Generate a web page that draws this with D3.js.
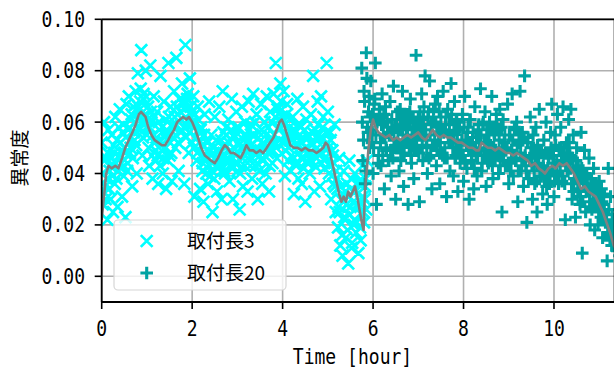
<!DOCTYPE html>
<html>
<head>
<meta charset="utf-8">
<script src="https://cdn.jsdelivr.net/npm/d3@7"></script>
<style>
  body { margin: 0; background: #fff; }
  svg { display: block; }
</style>
</head>
<body>
<svg id="chart" width="614" height="372"></svg>
<script>
// Anomaly scores logged every 0.75 minutes (0.0125 h)
const sampleStepHours = 0.0125;

// Mounting length 3 run
const startA = 0;
const scoreA = [
  0.052,0.040, 0.028,0.033, 0.060,0.045, 0.035,0.030, 0.046,0.038, 0.022,0.048, 0.057,0.034, 0.041,0.043,
  0.030,0.046, 0.055,0.039, 0.025,0.051, 0.048,0.036, 0.062,0.044, 0.038,0.053, 0.027,0.041, 0.058,0.047,
  0.065,0.052, 0.042,0.044, 0.031,0.056, 0.059,0.039, 0.050,0.048, 0.023,0.054, 0.067,0.041, 0.044,0.057,
  0.070,0.058, 0.048,0.050, 0.061,0.063, 0.035,0.046, 0.066,0.056, 0.053,0.060, 0.072,0.051, 0.040,0.064,
  0.079,0.066, 0.058,0.057, 0.068,0.073, 0.088,0.060, 0.047,0.054, 0.071,0.069, 0.062,0.063, 0.080,0.058,
  0.055,0.061, 0.066,0.050, 0.043,0.058, 0.082,0.064, 0.060,0.047, 0.038,0.055, 0.070,0.062, 0.052,0.049,
  0.045,0.054, 0.064,0.047, 0.036,0.060, 0.057,0.043, 0.078,0.051, 0.049,0.058, 0.040,0.046, 0.068,0.055,
  0.061,0.050, 0.034,0.057, 0.055,0.045, 0.083,0.062, 0.047,0.052, 0.066,0.048, 0.037,0.059, 0.058,0.054,
  0.072,0.062, 0.050,0.055, 0.085,0.066, 0.063,0.052, 0.041,0.060, 0.069,0.064, 0.056,0.057, 0.075,0.068,
  0.067,0.058, 0.036,0.065, 0.090,0.054, 0.059,0.069, 0.071,0.061, 0.048,0.056, 0.077,0.066, 0.064,0.060,
  0.052,0.059, 0.070,0.050, 0.031,0.063, 0.060,0.054, 0.045,0.048, 0.066,0.061, 0.057,0.052, 0.034,0.057,
  0.058,0.051, 0.041,0.044, 0.029,0.055, 0.063,0.046, 0.047,0.040, 0.053,0.052, 0.036,0.049, 0.068,0.043,
  0.039,0.047, 0.055,0.041, 0.025,0.050, 0.048,0.038, 0.062,0.046, 0.043,0.053, 0.033,0.042, 0.052,0.049,
  0.066,0.044, 0.045,0.053, 0.030,0.047, 0.072,0.056, 0.051,0.041, 0.040,0.050, 0.058,0.055, 0.046,0.045,
  0.061,0.052, 0.037,0.045, 0.049,0.057, 0.069,0.042, 0.030,0.050, 0.055,0.054, 0.044,0.047, 0.064,0.058,
  0.041,0.044, 0.058,0.051, 0.026,0.040, 0.050,0.054, 0.066,0.046, 0.035,0.050, 0.047,0.043, 0.060,0.055,
  0.054,0.052, 0.033,0.046, 0.068,0.057, 0.045,0.043, 0.059,0.051, 0.038,0.055, 0.071,0.048, 0.049,0.060,
  0.043,0.050, 0.063,0.044, 0.030,0.054, 0.056,0.041, 0.047,0.049, 0.067,0.057, 0.036,0.045, 0.052,0.051,
  0.060,0.047, 0.040,0.055, 0.070,0.050, 0.048,0.058, 0.033,0.043, 0.064,0.052, 0.054,0.060, 0.044,0.049,
  0.071,0.055, 0.052,0.062, 0.083,0.050, 0.046,0.065, 0.066,0.057, 0.058,0.053, 0.075,0.068, 0.062,0.060,
  0.060,0.052, 0.072,0.059, 0.039,0.049, 0.055,0.063, 0.067,0.055, 0.045,0.050, 0.058,0.061, 0.041,0.054,
  0.047,0.053, 0.062,0.046, 0.032,0.057, 0.056,0.044, 0.043,0.051, 0.069,0.059, 0.038,0.048, 0.053,0.055,
  0.058,0.046, 0.036,0.052, 0.066,0.042, 0.049,0.057, 0.029,0.050, 0.061,0.045, 0.044,0.055, 0.054,0.048,
  0.040,0.052, 0.063,0.045, 0.051,0.056, 0.078,0.047, 0.033,0.043, 0.057,0.054, 0.046,0.050, 0.068,0.059,
  0.055,0.047, 0.035,0.054, 0.070,0.044, 0.048,0.058, 0.062,0.050, 0.042,0.046, 0.051,0.056, 0.083,0.052,
  0.064,0.050, 0.040,0.043, 0.056,0.053, 0.030,0.039, 0.049,0.047, 0.036,0.044, 0.059,0.035, 0.025,0.041,
  0.038,0.034, 0.019,0.027, 0.046,0.025, 0.012,0.035, 0.030,0.016, 0.008,0.029, 0.041,0.023, 0.022,0.033,
  0.015,0.028, 0.036,0.018, 0.005,0.031, 0.045,0.024, 0.027,0.038, 0.011,0.013, 0.033,0.029, 0.020,0.022,
  0.040,0.033, 0.017,0.021, 0.028,0.027, 0.009,0.037, 0.036,0.019, 0.014,0.029, 0.024,0.043, 0.031,0.025,
  0.021,0.030, 0.035,0.038, 0.026,0.045
];

// Mounting length 20 run
const startB = 5.75;
const scoreB = [
  0.081,0.060, 0.045,0.053, 0.072,0.068, 0.036,0.041, 0.087,0.077, 0.058,0.056, 0.064,0.070, 0.050,0.062,
  0.076,0.057, 0.052,0.063, 0.040,0.050, 0.067,0.069, 0.083,0.055, 0.028,0.060, 0.061,0.044, 0.047,0.065,
  0.062,0.052, 0.043,0.059, 0.071,0.047, 0.055,0.063, 0.034,0.054, 0.066,0.050, 0.049,0.060, 0.058,0.045,
  0.045,0.056, 0.068,0.049, 0.039,0.061, 0.057,0.046, 0.074,0.053, 0.050,0.058, 0.030,0.051, 0.061,0.064,
  0.056,0.050, 0.041,0.057, 0.065,0.045, 0.048,0.062, 0.072,0.053, 0.035,0.048, 0.059,0.060, 0.052,0.055,
  0.063,0.058, 0.028,0.052, 0.051,0.064, 0.069,0.047, 0.044,0.055, 0.060,0.061, 0.038,0.050, 0.057,0.054,
  0.086,0.053, 0.049,0.059, 0.062,0.048, 0.029,0.064, 0.058,0.056, 0.071,0.051, 0.045,0.061, 0.066,0.055,
  0.078,0.057, 0.053,0.050, 0.040,0.062, 0.064,0.046, 0.076,0.055, 0.047,0.059, 0.034,0.051, 0.060,0.065,
  0.051,0.053, 0.067,0.060, 0.043,0.049, 0.070,0.058, 0.056,0.064, 0.036,0.052, 0.062,0.057, 0.048,0.047,
  0.072,0.056, 0.046,0.050, 0.059,0.062, 0.031,0.046, 0.065,0.055, 0.052,0.059, 0.041,0.052, 0.075,0.063,
  0.055,0.050, 0.039,0.056, 0.068,0.046, 0.047,0.061, 0.060,0.053, 0.033,0.048, 0.057,0.058, 0.044,0.051,
  0.049,0.053, 0.063,0.047, 0.037,0.058, 0.070,0.044, 0.053,0.052, 0.042,0.056, 0.058,0.049, 0.030,0.061,
  0.061,0.051, 0.045,0.045, 0.054,0.056, 0.034,0.042, 0.066,0.050, 0.048,0.054, 0.039,0.047, 0.057,0.059,
  0.052,0.049, 0.073,0.055, 0.041,0.044, 0.059,0.060, 0.047,0.052, 0.064,0.047, 0.035,0.057, 0.055,0.050,
  0.044,0.052, 0.060,0.046, 0.051,0.057, 0.070,0.043, 0.038,0.050, 0.056,0.055, 0.046,0.048, 0.063,0.059,
  0.057,0.047, 0.040,0.053, 0.065,0.043, 0.048,0.058, 0.025,0.050, 0.061,0.045, 0.052,0.055, 0.043,0.049,
  0.050,0.050, 0.067,0.044, 0.036,0.055, 0.055,0.041, 0.044,0.049, 0.071,0.053, 0.039,0.046, 0.058,0.057,
  0.045,0.045, 0.060,0.051, 0.029,0.041, 0.052,0.055, 0.072,0.048, 0.041,0.043, 0.056,0.053, 0.035,0.046,
  0.078,0.047, 0.043,0.041, 0.021,0.052, 0.054,0.038, 0.038,0.046, 0.062,0.050, 0.047,0.043, 0.030,0.055,
  0.050,0.041, 0.036,0.047, 0.058,0.037, 0.025,0.051, 0.044,0.044, 0.065,0.039, 0.039,0.049, 0.048,0.042,
  0.032,0.043, 0.053,0.038, 0.041,0.048, 0.060,0.035, 0.028,0.042, 0.047,0.046, 0.036,0.039, 0.056,0.050,
  0.067,0.041, 0.044,0.047, 0.031,0.037, 0.055,0.051, 0.040,0.044, 0.063,0.039, 0.036,0.049, 0.050,0.043,
  0.058,0.045, 0.037,0.039, 0.066,0.050, 0.045,0.036, 0.022,0.044, 0.052,0.048, 0.041,0.041, 0.061,0.052,
  0.047,0.042, 0.065,0.036, 0.030,0.046, 0.055,0.033, 0.038,0.041, 0.023,0.045, 0.050,0.038, 0.034,0.043,
  0.041,0.037, 0.028,0.031, 0.056,0.042, 0.009,0.029, 0.036,0.036, 0.049,0.040, 0.025,0.033, 0.039,0.038,
  0.033,0.034, 0.046,0.029, 0.020,0.038, 0.038,0.026, 0.027,0.032, 0.042,0.036, 0.018,0.030, 0.035,0.028,
  0.030,0.030, 0.020,0.025, 0.037,0.033, 0.025,0.023, 0.034,0.029, 0.015,0.032, 0.028,0.026, 0.022,0.021,
  0.024,0.022, 0.006,0.017, 0.042,0.026, 0.016,0.014, 0.031,0.020, 0.012,0.024, 0.021,0.015, 0.018,0.019,
  0.014,0.016, 0.026,0.012, 0.010,0.018, 0.020,0.011, 0.008,0.015
];

// Moving average of the combined score
const trendTime = [
  0.00, 0.05, 0.10, 0.15, 0.22, 0.30, 0.37, 0.45, 0.52, 0.60, 0.68, 0.75, 0.82, 0.87, 0.92, 0.97,
  1.03, 1.10, 1.17, 1.25, 1.33, 1.40, 1.47, 1.53, 1.60, 1.67, 1.73, 1.80, 1.87, 1.93,
  2.00, 2.07, 2.13, 2.20, 2.28, 2.35, 2.42, 2.50, 2.57, 2.65, 2.72, 2.78, 2.85, 2.92,
  3.00, 3.07, 3.13, 3.20, 3.27, 3.35, 3.42, 3.50, 3.57, 3.65, 3.72, 3.80, 3.87, 3.93, 3.98,
  4.03, 4.10, 4.17, 4.25, 4.33, 4.42, 4.50, 4.58, 4.67, 4.75, 4.83, 4.90, 4.95,
  5.00, 5.05, 5.10, 5.15, 5.20, 5.25, 5.30, 5.35, 5.40, 5.45, 5.50, 5.55, 5.60, 5.65, 5.70, 5.75,
  5.79, 5.82, 5.86, 5.90, 5.95, 6.00, 6.05, 6.12, 6.20, 6.28, 6.36, 6.44, 6.52, 6.60, 6.68,
  6.76, 6.84, 6.92, 7.00, 7.08, 7.16, 7.24, 7.32, 7.40, 7.48, 7.56, 7.64, 7.72, 7.80, 7.88, 7.96,
  8.04, 8.12, 8.20, 8.28, 8.34, 8.40, 8.46, 8.54, 8.62, 8.70, 8.78, 8.86, 8.94,
  9.02, 9.10, 9.18, 9.26, 9.34, 9.42, 9.50, 9.58, 9.66, 9.74, 9.80, 9.88, 9.96,
  10.04, 10.12, 10.20, 10.28, 10.36, 10.44, 10.52, 10.60, 10.68, 10.76, 10.84, 10.92,
  11.00, 11.08, 11.16, 11.24, 11.32, 11.40
];
const trendScore = [
  0.022, 0.031, 0.040, 0.043, 0.042, 0.043, 0.042, 0.046, 0.050, 0.053, 0.056, 0.059, 0.063, 0.064, 0.063, 0.062,
  0.058, 0.055, 0.053, 0.052, 0.051, 0.051, 0.053, 0.055, 0.057, 0.060, 0.061, 0.062, 0.061, 0.062,
  0.060, 0.057, 0.054, 0.050, 0.047, 0.046, 0.045, 0.044, 0.046, 0.049, 0.051, 0.050, 0.048, 0.048,
  0.047, 0.046, 0.048, 0.051, 0.049, 0.049, 0.048, 0.049, 0.048, 0.050, 0.052, 0.054, 0.057, 0.060, 0.061,
  0.059, 0.055, 0.051, 0.050, 0.050, 0.049, 0.050, 0.049, 0.049, 0.048, 0.049, 0.050, 0.052,
  0.051, 0.048, 0.044, 0.040, 0.036, 0.032, 0.029, 0.031, 0.029, 0.033, 0.031, 0.033, 0.035, 0.031, 0.026, 0.021,
  0.018, 0.033, 0.041, 0.050, 0.057, 0.061, 0.058, 0.056, 0.055, 0.054, 0.055, 0.053, 0.054, 0.053, 0.054,
  0.055, 0.054, 0.055, 0.056, 0.054, 0.053, 0.055, 0.057, 0.055, 0.054, 0.055, 0.054, 0.054, 0.053, 0.052, 0.052,
  0.051, 0.050, 0.050, 0.049, 0.049, 0.052, 0.051, 0.050, 0.050, 0.049, 0.050, 0.049, 0.048,
  0.048, 0.047, 0.048, 0.047, 0.046, 0.045, 0.043, 0.044, 0.042, 0.041, 0.040, 0.042, 0.043,
  0.042, 0.044, 0.043, 0.044, 0.042, 0.040, 0.037, 0.034, 0.035, 0.033, 0.032, 0.031,
  0.028, 0.025, 0.021, 0.017, 0.012, 0.010
];

const xTicks = [0, 2, 4, 6, 8, 10];
const yTicks = [0.00, 0.02, 0.04, 0.06, 0.08, 0.10];
const legendLabels = ["取付長3", "取付長20"];
const xTitle = "Time [hour]";
const yTitle = "異常度";

const colorA = "#00ffff";
const colorB = "#00a2a2";
const trendColor = "#808080";
const monoFont = "'DejaVu Sans Mono', 'Liberation Mono', monospace";
const cjkFont = "'Noto Sans CJK JP', 'Noto Sans CJK SC', sans-serif";

const plot = { left: 101.7, right: 614.6, top: 19.3, bottom: 302 };
const x = d3.scaleLinear().domain([0, 11.34]).range([plot.left, plot.right]);
const y = d3.scaleLinear().domain([-0.01, 0.10]).range([plot.bottom, plot.top]);

const svg = d3.select("#chart");

const pointsA = scoreA.map((v, i) => ({ t: startA + i * sampleStepHours, v }));
const pointsB = scoreB.map((v, i) => ({ t: startB + i * sampleStepHours, v }));
const trend = trendTime.map((t, i) => ({ t, v: trendScore[i] }));

svg.append("defs").append("clipPath").attr("id", "plot-clip")
  .append("rect")
  .attr("x", plot.left).attr("y", plot.top)
  .attr("width", plot.right - plot.left).attr("height", plot.bottom - plot.top);

// grid
const grid = svg.append("g").attr("stroke", "#b0b0b0").attr("stroke-width", 1.6);
grid.selectAll("line.gx").data(xTicks).join("line")
  .attr("x1", d => x(d)).attr("x2", d => x(d))
  .attr("y1", plot.top).attr("y2", plot.bottom);
grid.selectAll("line.gy").data(yTicks).join("line")
  .attr("x1", plot.left).attr("x2", plot.right)
  .attr("y1", d => y(d)).attr("y2", d => y(d));

const marks = svg.append("g").attr("clip-path", "url(#plot-clip)");

const xMarker = (cx, cy, s) => `M${cx - s},${cy - s}L${cx + s},${cy + s}M${cx - s},${cy + s}L${cx + s},${cy - s}`;
const plusMarker = (cx, cy, s) => `M${cx - s},${cy}L${cx + s},${cy}M${cx},${cy - s}L${cx},${cy + s}`;
const styleA = { size: 5.9, width: 2.7 };
const styleB = { size: 6.3, width: 3.1 };

marks.append("path")
  .attr("d", pointsA.map(p => xMarker(x(p.t), y(p.v), styleA.size)).join(""))
  .attr("fill", "none").attr("stroke", colorA).attr("stroke-width", styleA.width);

marks.append("path")
  .attr("d", pointsB.map(p => plusMarker(x(p.t), y(p.v), styleB.size)).join(""))
  .attr("fill", "none").attr("stroke", colorB).attr("stroke-width", styleB.width);

marks.append("path")
  .datum(trend)
  .attr("d", d3.line().x(d => x(d.t)).y(d => y(d.v)))
  .attr("fill", "none").attr("stroke", trendColor).attr("stroke-width", 2.6)
  .attr("stroke-linejoin", "round");

// axes frame
const frame = svg.append("g").attr("stroke", "#000").attr("stroke-width", 1.8).attr("fill", "none");
frame.append("line").attr("x1", plot.left).attr("x2", plot.left).attr("y1", plot.top).attr("y2", plot.bottom);
frame.append("line").attr("x1", plot.left).attr("x2", plot.right).attr("y1", plot.bottom).attr("y2", plot.bottom);
frame.append("line").attr("x1", plot.left).attr("x2", plot.right).attr("y1", plot.top).attr("y2", plot.top);
frame.append("line").attr("x1", plot.right).attr("x2", plot.right).attr("y1", plot.top).attr("y2", plot.bottom);

// ticks and labels
const fmtY = d3.format(".2f");
const ticksG = svg.append("g");
yTicks.forEach(d => {
  ticksG.append("line").attr("x1", plot.left - 7).attr("x2", plot.left)
    .attr("y1", y(d)).attr("y2", y(d)).attr("stroke", "#000").attr("stroke-width", 1.6);
  ticksG.append("text")
    .attr("transform", `translate(85,${y(d) + 7.5}) scale(0.82,1)`)
    .attr("text-anchor", "end")
    .attr("font-family", monoFont).attr("font-size", 22)
    .attr("fill", "#000")
    .text(fmtY(d));
});
xTicks.forEach(d => {
  ticksG.append("line").attr("x1", x(d)).attr("x2", x(d))
    .attr("y1", plot.bottom).attr("y2", plot.bottom + 7).attr("stroke", "#000").attr("stroke-width", 1.6);
  ticksG.append("text")
    .attr("transform", `translate(${x(d)},335.5) scale(0.82,1)`)
    .attr("text-anchor", "middle")
    .attr("font-family", monoFont).attr("font-size", 22)
    .attr("fill", "#000")
    .text(d);
});

svg.append("text")
  .attr("transform", "translate(352.5,364) scale(0.82,1)")
  .attr("text-anchor", "middle")
  .attr("font-family", monoFont).attr("font-size", 22)
  .attr("fill", "#000")
  .text(xTitle);

svg.append("text")
  .attr("transform", "translate(27,158) rotate(-90)")
  .attr("text-anchor", "middle")
  .attr("font-family", cjkFont).attr("font-size", 19)
  .attr("fill", "#000")
  .text(yTitle);

// legend
const legend = svg.append("g");
legend.append("rect")
  .attr("x", 114).attr("y", 220).attr("width", 172).attr("height", 70)
  .attr("rx", 4).attr("ry", 4)
  .attr("fill", "#fff").attr("fill-opacity", 0.8)
  .attr("stroke", "#d6d6d6").attr("stroke-width", 1.2);
const legendItems = [
  { label: legendLabels[0], color: colorA, shape: xMarker, style: styleA, cy: 241 },
  { label: legendLabels[1], color: colorB, shape: plusMarker, style: styleB, cy: 273 }
];
legendItems.forEach(item => {
  legend.append("path")
    .attr("d", item.shape(146.7, item.cy, item.style.size))
    .attr("fill", "none").attr("stroke", item.color).attr("stroke-width", item.style.width);
  legend.append("text")
    .attr("x", 187).attr("y", item.cy + 7)
    .attr("font-family", cjkFont).attr("font-size", 19)
    .attr("fill", "#000")
    .text(item.label);
});
</script>
</body>
</html>
